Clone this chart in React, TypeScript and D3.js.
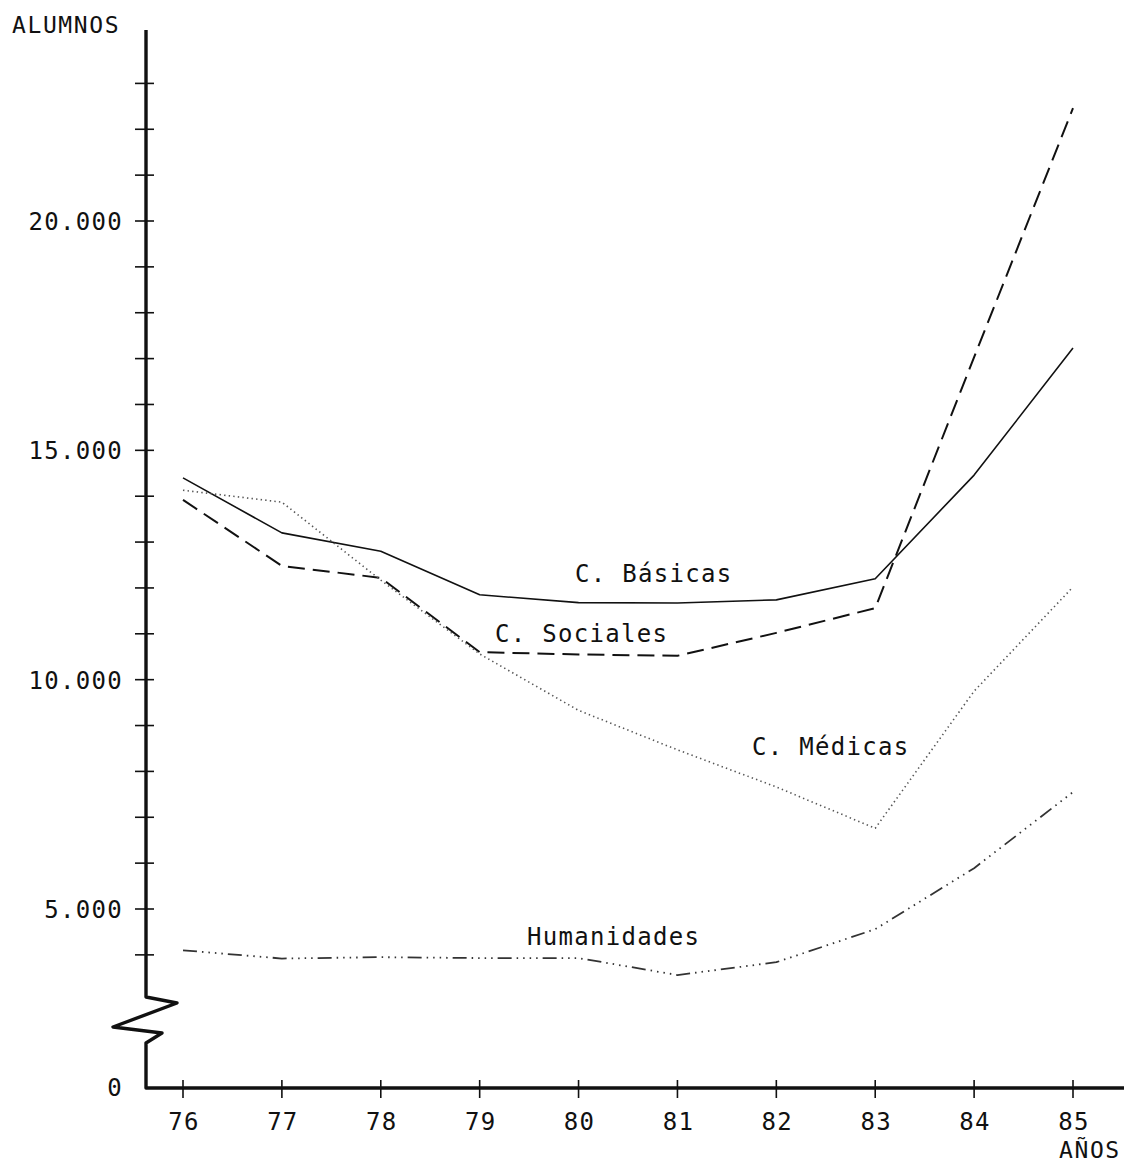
import React from "react";
import * as d3 from "d3";

const years = [76, 77, 78, 79, 80, 81, 82, 83, 84, 85];
const basicas = [14400, 13200, 12800, 11850, 11680, 11670, 11740, 12200, 14460, 17230];
const sociales = [13920, 12480, 12220, 10600, 10550, 10520, 11020, 11560, 17030, 22460];
const medicas = [14130, 13870, 12170, 10560, 9330, 8470, 7660, 6760, 9750, 12020];
const humanidades = [4100, 3920, 3950, 3930, 3930, 3560, 3840, 4560, 5890, 7550];

const yTickValues = d3.range(4000, 24000, 1000);
const yLabelValues = [5000, 10000, 15000, 20000];
const yLabelText = ["5.000", "10.000", "15.000", "20.000"];

const W = 1124;
const H = 1163;
const FONT = "'DejaVu Sans Mono', monospace";

export default function App() {
  const x = d3.scaleLinear().domain([76, 85]).range([183, 1073]);
  const y = d3.scaleLinear().domain([5000, 20000]).range([909, 221]);

  const axisX = 146;
  const baseY = 1088;
  const axisTop = 30;

  const mk = (vals: number[]) =>
    d3
      .line<number>()
      .x((_, i) => x(years[i]))
      .y((v) => y(v))(vals) as string;

  const series = [
    { vals: basicas, dash: undefined, stroke: "#111", width: 1.6 },
    { vals: sociales, dash: "17,8", stroke: "#111", width: 2 },
    { vals: medicas, dash: "1.4,3.2", stroke: "#555", width: 1.6 },
    { vals: humanidades, dash: "14,5,1.5,5,1.5,5,1.5,5,1.5,5", stroke: "#333", width: 1.8 },
  ];

  const axisPath = [
    [axisX, axisTop],
    [axisX, 997],
    [177, 1003],
    [113, 1027],
    [162, 1033],
    [axisX, 1043],
    [axisX, baseY],
    [W, baseY],
  ];

  const labelStyle = {
    fontFamily: FONT,
    fontSize: 24,
    letterSpacing: 1.3,
    fill: "#111",
  } as const;

  return (
    <svg
      width={W}
      height={H}
      style={{ position: "absolute", left: 0, top: 0, background: "#fff" }}
    >
      <rect x={0} y={0} width={W} height={H} fill="#fff" />
      {/* axes */}
      <path
        d={d3.line()(axisPath as [number, number][]) as string}
        fill="none"
        stroke="#111"
        strokeWidth={3.4}
        strokeLinejoin="round"
      />
      {yTickValues.map((v) => (
        <line
          key={"yt" + v}
          x1={135}
          x2={154}
          y1={y(v)}
          y2={y(v)}
          stroke="#111"
          strokeWidth={1.6}
        />
      ))}
      {years.map((yr) => (
        <line
          key={"xt" + yr}
          x1={x(yr)}
          x2={x(yr)}
          y1={baseY - 8}
          y2={baseY + 10}
          stroke="#111"
          strokeWidth={1.6}
        />
      ))}
      {yLabelValues.map((v, i) => (
        <text key={"yl" + v} x={123} y={y(v) + 9} textAnchor="end" style={labelStyle}>
          {yLabelText[i]}
        </text>
      ))}
      <text x={123} y={1096} textAnchor="end" style={labelStyle}>
        0
      </text>
      {years.map((yr) => (
        <text key={"xl" + yr} x={x(yr) + 1} y={1130} textAnchor="middle" style={labelStyle}>
          {yr}
        </text>
      ))}
      <text x={12} y={33} style={{ ...labelStyle, fontSize: 23, letterSpacing: 1.6 }}>
        ALUMNOS
      </text>
      <text x={1059} y={1158} style={{ ...labelStyle, fontSize: 23, letterSpacing: 1.6 }}>
        AÑOS
      </text>

      {/* series */}
      {series.map((s, i) => (
        <path
          key={"s" + i}
          d={mk(s.vals)}
          fill="none"
          stroke={s.stroke}
          strokeWidth={s.width}
          strokeDasharray={s.dash}
          strokeLinejoin="round"
        />
      ))}

      {/* series labels */}
      <text x={575} y={582} style={labelStyle}>C. Básicas</text>
      <text x={495} y={642} style={labelStyle}>C. Sociales</text>
      <text x={752} y={755} style={labelStyle}>C. Médicas</text>
      <text x={527} y={945} style={labelStyle}>Humanidades</text>
    </svg>
  );
}
